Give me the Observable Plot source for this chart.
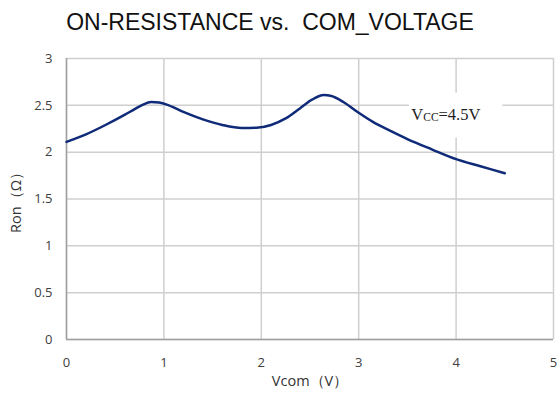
<!DOCTYPE html>
<html>
<head>
<meta charset="utf-8">
<script src="https://cdn.jsdelivr.net/npm/d3@7"></script>
<script src="https://cdn.jsdelivr.net/npm/@observablehq/plot@0.6"></script>
<style>
  html, body { margin: 0; padding: 0; background: #fff; }
  #wrap { width: 558px; height: 401px; overflow: hidden; }
  #title { height: 45px; width: 540px; text-align: center; font-family: "Liberation Sans", Arial, sans-serif; font-size: 23px; color: #111; line-height: 45px; white-space: pre; }
</style>
</head>
<body>
<div id="wrap">
  <div id="title">ON-RESISTANCE vs.  COM_VOLTAGE</div>
  <div id="chart"></div>
</div>
<script>
const vcom = [0, 0.2, 0.4, 0.6, 0.7, 0.78, 0.87, 0.95, 1.05, 1.2, 1.4, 1.6, 1.8, 1.95, 2.1, 2.25, 2.4, 2.52, 2.64, 2.72, 2.85, 3.0, 3.15, 3.3, 3.5, 3.75, 4.0, 4.25, 4.5];
const ron  = [2.11, 2.19, 2.29, 2.40, 2.46, 2.505, 2.535, 2.53, 2.50, 2.43, 2.35, 2.29, 2.258, 2.26, 2.29, 2.36, 2.47, 2.56, 2.61, 2.60, 2.53, 2.42, 2.32, 2.24, 2.14, 2.03, 1.925, 1.85, 1.775];
const xTicks = [0, 1, 2, 3, 4, 5];
const yTicks = [0, 0.5, 1, 1.5, 2, 2.5, 3];
const annotationText = "VCC=4.5V";

const data = vcom.map((v, i) => ({vcom: v, ron: ron[i]}));

const tickFont = '"Open Sans", "Noto Sans", sans-serif';

const chart = Plot.plot({
  width: 558,
  height: 356,
  marginLeft: 66,
  marginRight: 5,
  marginTop: 13,
  marginBottom: 62,
  style: { fontFamily: tickFont, fontSize: "13px", color: "#404040", background: "#fff" },
  x: { domain: [0, 5], ticks: xTicks },
  y: { domain: [0, 3], ticks: yTicks },
  marks: [
    Plot.gridX(xTicks, { stroke: "#cfcfcf", strokeOpacity: 1, strokeWidth: 1.5 }),
    Plot.gridY(yTicks, { stroke: "#cfcfcf", strokeOpacity: 1, strokeWidth: 1.5 }),
    Plot.ruleX([0], { stroke: "#a0a0a0", strokeWidth: 1.5 }),
    Plot.ruleY([0], { stroke: "#a0a0a0", strokeWidth: 1.5 }),
    Plot.axisX(xTicks, { tickSize: 0, tickPadding: 18, tickFormat: d3.format("~g"), fontSize: 13, label: null }),
    Plot.axisY(yTicks, { tickSize: 0, tickPadding: 14, tickFormat: d3.format("~g"), fontSize: 13, label: null }),
    Plot.axisX({ ticks: [], label: "Vcom（V）", labelAnchor: "center", labelArrow: "none", labelOffset: 46, fontSize: 14.5, fill: "#333" }),
    Plot.axisY({ ticks: [], label: "Ron（Ω）", labelAnchor: "center", labelArrow: "none", labelOffset: 56, fontSize: 14.5, fill: "#333" }),
    Plot.rect([{}], { x1: () => 3.52, x2: () => 4.48, y1: () => 2.15, y2: () => 2.63, fill: "#fff" }),
    Plot.line(data, { x: "vcom", y: "ron", curve: "monotone-x", stroke: "#0f2a78", strokeWidth: 2.5 }),
    Plot.text([annotationText], { x: () => 3.54, y: () => 2.40, text: d => d, textAnchor: "start", fontFamily: '"Liberation Serif", "Times New Roman", serif', fontSize: 16.5, fill: "#222", className: "vcc-label" })
  ]
});

document.getElementById("chart").appendChild(chart);

// render subscript for the annotation
d3.select(chart).selectAll(".vcc-label text").each(function () {
  const t = d3.select(this);
  const s = t.text();
  t.text(null);
  t.append("tspan").text(s.slice(0, 1));
  t.append("tspan").attr("font-size", "11.5px").attr("dy", "1").text(s.slice(1, 3));
  t.append("tspan").attr("dy", "-1").text(s.slice(3));
});
</script>
</body>
</html>
